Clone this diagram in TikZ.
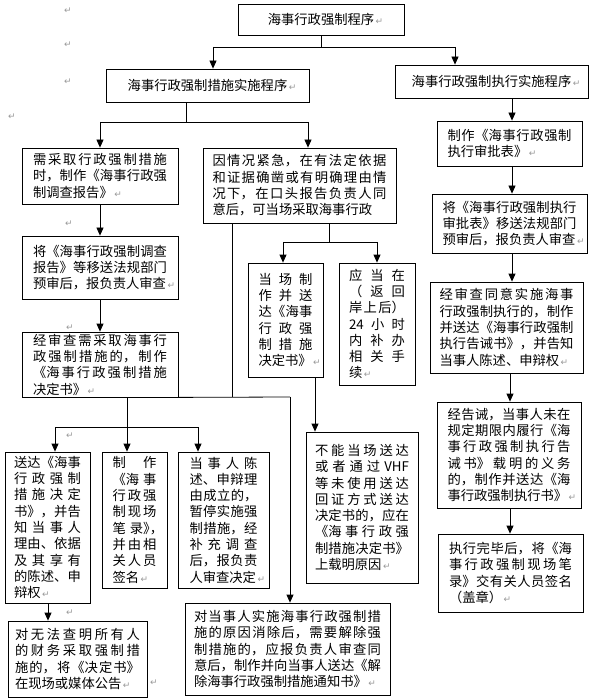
\documentclass[tikz,border=0pt]{standalone}
\usepackage{fontspec}
\setmainfont{Noto Sans CJK SC}
\newfontfamily\retfont{DejaVu Sans}
\usetikzlibrary{arrows.meta}

\XeTeXlinebreaklocale "zh"
\XeTeXlinebreakskip=0pt plus 1fil
\parfillskip=0pt plus 1fill
\setlength\parindent{0pt}

\definecolor{retgray}{gray}{0.6}
\newcommand{\ret}{\rlap{\hspace{1.5pt}\retfont\fontsize{9}{9}\selectfont\color{retgray}↵}}
\newcommand{\hw}[1]{\makebox[0.5em][l]{#1}}

\tikzset{
  box/.style={draw, inner xsep=0pt, inner ysep=0pt,
    font=\fontsize{13.3}{16.3}\selectfont,
    execute at begin node={\parfillskip=0pt plus 1fill\parindent=0pt\relax}},
  proc/.style={draw, inner sep=0pt, font=\fontsize{13.3}{16}\selectfont},
  arr/.style={-{Triangle[length=8pt,width=7pt]}},
  retmark/.style={inner sep=0pt, text=retgray, font=\retfont\fontsize{9}{9}\selectfont}
}

\begin{document}
\begin{tikzpicture}[x=1pt, y=-1pt, line width=0.8pt]
  \fill[white] (0,0) rectangle (593,700);
  \useasboundingbox (0,0) rectangle (593,700);

  % 顶层
  \node[proc, minimum width=166pt, minimum height=31pt] (prog) at (321,19.5) {海事行政强制程序\ret};
  \node[proc, minimum width=203pt, minimum height=33pt] (measure) at (207.5,85.5) {海事行政强制措施实施程序\ret};
  \node[proc, minimum width=193pt, minimum height=33pt] (enforce) at (491.5,81.5) {海事行政强制执行实施程序\ret};

  % 措施：左列
  \node[box, text width=134pt, minimum width=156pt, minimum height=56pt] (survey) at (100,176) {需采取行政强制措施\break 时，制作《海事行政强\break 制调查报告》\ret};
  \node[box, text width=134pt, minimum width=156pt, minimum height=63pt] (refer) at (100,267.5) {将《海事行政强制调查\break 报告》等移送法规部门\break 预审后，报负责人审查\ret};
  \node[box, text width=134pt, minimum width=156pt, minimum height=65pt] (decide) at (100,364.5) {经审查需采取海事行\break 政强制措施的，制作\break 《海事行政强制措施\break 决定书》\ret};
  \node[box, text width=67pt, minimum width=85pt, minimum height=151pt] (serve) at (47.5,527.5) {送达《海事\break 行政强制\break 措施决定\break 书》，并告\break 知当事人\break 理由、依据\break 及其享有\break 的陈述、申\break 辩权\ret};
  \node[box, text width=44pt, minimum width=65pt, minimum height=136pt] (record) at (134.5,520) {制作\break 《海事\break 行政强\break 制现场\break 笔录\hw{》}\hw{，}\break 并由相\break 关人员\break 签名\ret};
  \node[box, text width=68pt, minimum width=91pt, minimum height=136pt] (plead) at (223.5,520) {当事人陈\break 述、申辩理\break 由成立的，\break 暂停实施强\break 制措施，经\break 补充调查\break 后，报负责\break 人审查决定\ret};
  \node[box, text width=125pt, minimum width=139pt, minimum height=76pt] (publish) at (77.5,659) {对无法查明所有人\break 的财务采取强制措\break 施的，将《决定书》\break 在现场或媒体公告\ret};

  % 措施：当场
  \node[box, text width=174pt, minimum width=193pt, minimum height=75pt] (urgent) at (299.5,185.5) {\parfillskip=0pt\relax 因情况紧急，在有法定依据\break 和证据确凿或有明确理由情\break 况下，在口头报告负责人同\break 意后，可当场采取海事行政};
  \node[box, text width=54pt, minimum width=75pt, minimum height=114pt] (onsite) at (285.5,320) {当场制\break 作并送\break 达《海事\break 行政强\break 制措施\break 决定书》\ret};
  \node[box, text width=56pt, minimum width=76pt, minimum height=122pt] (later) at (377,324) {应当在\break （\hfil 返回\break 岸上后）\break 24\hfil 小时\break 内补办\break 相关手\break 续\ret};
  \node[box, text width=94pt, minimum width=112pt, minimum height=151pt] (novhf) at (362,507.5) {不能当场送达\break 或者通过\hfil VHF\break 等未使用送达\break 回证方式送达\break 决定书的，应在\break 《海事行政强\break 制措施决定书》\break 上载明原因\ret};
  \node[box, text width=187pt, minimum width=205pt, minimum height=92pt] (lift) at (287.5,649) {对当事人实施海事行政强制措\break 施的原因消除后，需要解除强\break 制措施的，应报负责人审查同\break 意后，制作并向当事人送达《解\break 除海事行政强制措施通知书》\ret};

  % 执行：右列
  \node[box, text width=124pt, minimum width=145pt, minimum height=45pt] (approve) at (509.5,143.5) {制作《海事行政强制\break 执行审批表》\ret};
  \node[box, text width=134pt, minimum width=155pt, minimum height=59pt] (submit) at (509.5,223.5) {将《海事行政强制执行\break 审批表》移送法规部门\break 预审后，报负责人审查\ret};
  \node[box, text width=134pt, minimum width=153pt, minimum height=91pt] (review) at (506.5,327.5) {经审查同意实施海事\break 行政强制执行的，制作\break 并送达《海事行政强制\break 执行告诫书》，并告知\break 当事人陈述、申辩权\ret};
  \node[box, text width=123pt, minimum width=144pt, minimum height=106pt] (order) at (509,455) {经告诫，当事人未在\break 规定期限内履行《海\break 事行政强制执行告\break 诫书》载明的义务\break 的，制作并送达《海\break 事行政强制执行书》\ret};
  \node[box, text width=123pt, minimum width=145pt, minimum height=78pt] (done) at (510.5,573) {执行完毕后，将《海\break 事行政强制现场笔\break 录》交有关人员签名\break （盖章）\ret};

  % 段落标记
  \foreach \x/\y [count=\i] in {68/11,68/45,68/82,12/117,69/224,70/328,70/436,70/613,154/683}
    \node[retmark] (ret\i) at (\x,\y) {↵};

  % 第一层分叉
  \coordinate (t0) at (321,47);
  \coordinate (t1) at (213,47);
  \coordinate (t2) at (455,47);
  \draw (prog) -- (t0);
  \draw (t1) -- (t2);
  \draw[arr] (t1) -- (t1 |- measure.north);
  \draw[arr] (t2) -- (t2 |- enforce.north);

  % 措施程序分叉
  \coordinate (m0) at (186,122);
  \coordinate (m1) at (100,122);
  \coordinate (m2) at (308,122);
  \draw (m0 |- measure.south) -- (m0);
  \draw (m1) -- (m2);
  \draw[arr] (m1) -- (m1 |- survey.north);
  \draw[arr] (m2) -- (m2 |- urgent.north);

  % 左列
  \draw[arr] (survey) -- (refer);
  \draw[arr] (refer) -- (decide);
  \coordinate (k0) at (127,427);
  \coordinate (k1) at (55,427);
  \coordinate (k2) at (198,427);
  \draw (k0 |- decide.south) -- (k0);
  \draw (k1) -- (k2);
  \draw[arr] (k1) -- (k1 |- serve.north);
  \draw[arr] (k0) -- (k0 |- record.north);
  \draw[arr] (k2) -- (k2 |- plead.north);
  \coordinate (s0) at (48,610);
  \draw[arr] (s0 |- serve.south) -- (s0 |- publish.north);

  % 解除
  \coordinate (d0) at (290,397);
  \coordinate (d1) at (232,397);
  \draw (decide.south east) -- (d0);
  \draw (d1 |- urgent.south) -- (d1);
  \draw[arr] (d0) -- (d0 |- lift.north);

  % 当场分叉
  \coordinate (g0) at (329,242);
  \coordinate (g1) at (283,242);
  \coordinate (g2) at (377,242);
  \draw (g0 |- urgent.south) -- (g0);
  \draw (g1) -- (g2);
  \draw[arr] (g1) -- (g1 |- onsite.north);
  \draw[arr] (g2) -- (g2 |- later.north);
  \coordinate (n0) at (315,400);
  \draw[arr] (n0 |- onsite.south) -- (n0 |- novhf.north);

  % 右列
  \coordinate (e0) at (512,0);
  \coordinate (e1) at (510,0);
  \draw[arr] (e0 |- enforce.south) -- (e0 |- approve.north);
  \draw[arr] (e0 |- approve.south) -- (e0 |- submit.north);
  \draw[arr] (e0 |- submit.south) -- (e0 |- review.north);
  \draw[arr] (e1 |- review.south) -- (e1 |- order.north);
  \draw[arr] (e1 |- order.south) -- (e1 |- done.north);
\end{tikzpicture}
\end{document}
